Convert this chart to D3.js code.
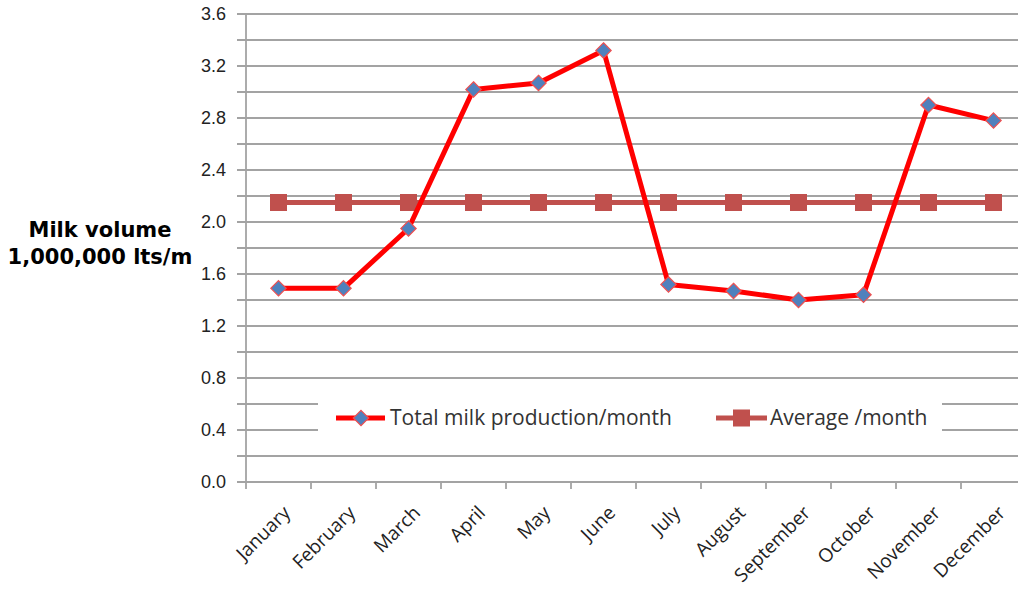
<!DOCTYPE html>
<html>
  <head>
    <meta charset="utf-8">
    <title>Milk volume</title>
    <script src="https://d3js.org/d3.v7.min.js"></script>
    <style>
      body { margin: 0; background: #fff; }
      svg { display: block; }
    </style>
  </head>
  <body>
    <div id="chart"></div>
    <script>
      // data
      const months = ["January", "February", "March", "April", "May", "June",
        "July", "August", "September", "October", "November", "December"];
      const totalMilk = [1.49, 1.49, 1.95, 3.02, 3.07, 3.32, 1.52, 1.47, 1.40, 1.44, 2.90, 2.78];
      const averageMilk = [2.15, 2.15, 2.15, 2.15, 2.15, 2.15, 2.15, 2.15, 2.15, 2.15, 2.15, 2.15];
      const yTicks = [0, 0.4, 0.8, 1.2, 1.6, 2.0, 2.4, 2.8, 3.2, 3.6];
      const yGrid = d3.range(0, 19).map(function(i) { return i * 0.2; });
      const seriesNames = ["Total milk production/month", "Average /month"];

      const width = 1018, height = 594;
      const svg = d3.select("#chart").append("svg")
        .attr("width", width)
        .attr("height", height);

      // scales
      const x = d3.scaleBand().domain(months).range([246, 1026]).padding(0);
      const y = d3.scaleLinear().domain([0, 3.6]).range([482, 14]);
      const cx = function(m) { return x(m) + x.bandwidth() / 2; };
      const gridColor = "#a3a3a3";

      // gridlines + little ticks left of the axis
      svg.append("g").selectAll("line")
        .data(yGrid)
        .enter().append("line")
          .attr("x1", 237).attr("x2", 1026)
          .attr("y1", function(d) { return y(d); })
          .attr("y2", function(d) { return y(d); })
          .attr("stroke", gridColor)
          .attr("stroke-width", 1.8);

      // y tick labels
      svg.append("g").selectAll("text")
        .data(yTicks)
        .enter().append("text")
          .attr("x", 226)
          .attr("y", function(d) { return y(d); })
          .attr("dy", "0.36em")
          .attr("text-anchor", "end")
          .style("font-family", "'Liberation Sans', Arial, sans-serif")
          .style("font-size", "18px")
          .attr("fill", "#222")
          .text(function(d) { return d.toFixed(1); });

      // y axis line
      svg.append("line")
        .attr("x1", 246).attr("x2", 246)
        .attr("y1", y(3.6)).attr("y2", y(0))
        .attr("stroke", gridColor).attr("stroke-width", 1.8);

      // x ticks at category boundaries
      svg.append("g").selectAll("line")
        .data(months.concat(["end"]))
        .enter().append("line")
          .attr("x1", function(d, i) { return 246 + i * x.bandwidth(); })
          .attr("x2", function(d, i) { return 246 + i * x.bandwidth(); })
          .attr("y1", y(0)).attr("y2", y(0) + 7)
          .attr("stroke", gridColor).attr("stroke-width", 1.8);

      // x labels, rotated
      svg.append("g").selectAll("text")
        .data(months)
        .enter().append("text")
          .attr("transform", function(d) { return "translate(" + (cx(d) + 13) + "," + 514 + ") rotate(-45)"; })
          .attr("text-anchor", "end")
          .style("font-family", "'Open Sans', sans-serif")
          .style("font-size", "19px")
          .attr("fill", "#222")
          .text(function(d) { return d; });

      // y title
      const title = svg.append("text")
        .attr("text-anchor", "middle")
        .style("font-family", "'DejaVu Sans', sans-serif")
        .style("font-weight", "bold")
        .style("font-size", "21px")
        .attr("fill", "#000");
      title.append("tspan").attr("x", 100).attr("y", 237).text("Milk volume");
      title.append("tspan").attr("x", 100).attr("y", 264).text("1,000,000 lts/m");

      // average series
      const line = d3.line()
        .x(function(d, i) { return cx(months[i]); })
        .y(function(d) { return y(d); });
      svg.append("path")
        .datum(averageMilk)
        .attr("d", line)
        .attr("fill", "none")
        .attr("stroke", "#c0504d")
        .attr("stroke-width", 5);
      svg.append("g").selectAll("rect")
        .data(averageMilk)
        .enter().append("rect")
          .attr("x", function(d, i) { return cx(months[i]) - 8.5; })
          .attr("y", function(d) { return y(d) - 8.5; })
          .attr("width", 17).attr("height", 17)
          .attr("fill", "#c0504d");

      // total series
      svg.append("path")
        .datum(totalMilk)
        .attr("d", line)
        .attr("fill", "none")
        .attr("stroke", "#ff0000")
        .attr("stroke-width", 5)
        .attr("stroke-linejoin", "round");
      const diamond = d3.symbol().type(d3.symbolDiamond2).size(150);
      svg.append("g").selectAll("path")
        .data(totalMilk)
        .enter().append("path")
          .attr("transform", function(d, i) { return "translate(" + cx(months[i]) + "," + y(d) + ")"; })
          .attr("d", diamond)
          .attr("fill", "#4f81bd")
          .attr("stroke", "#f05050")
          .attr("stroke-width", 1.2);

      // legend
      const legend = svg.append("g");
      legend.append("rect")
        .attr("x", 318).attr("y", 396)
        .attr("width", 624).attr("height", 46)
        .attr("fill", "#fff");
      const ly = 418;
      legend.append("line")
        .attr("x1", 336).attr("x2", 385).attr("y1", ly).attr("y2", ly)
        .attr("stroke", "#ff0000").attr("stroke-width", 5);
      legend.append("path")
        .attr("transform", "translate(361," + ly + ")")
        .attr("d", diamond)
        .attr("fill", "#4f81bd").attr("stroke", "#f05050").attr("stroke-width", 1.2);
      legend.append("line")
        .attr("x1", 716).attr("x2", 767).attr("y1", ly).attr("y2", ly)
        .attr("stroke", "#c0504d").attr("stroke-width", 5);
      legend.append("rect")
        .attr("x", 733).attr("y", ly - 8.5).attr("width", 17).attr("height", 17)
        .attr("fill", "#c0504d");
      legend.selectAll("text.lab")
        .data(seriesNames)
        .enter().append("text")
          .attr("x", function(d, i) { return i === 0 ? 390 : 770; })
          .attr("y", ly)
          .attr("dy", "0.35em")
          .style("font-family", "'Open Sans', sans-serif")
          .style("font-size", "21px")
          .attr("fill", "#333")
          .text(function(d) { return d; });
    </script>
  </body>
</html>
